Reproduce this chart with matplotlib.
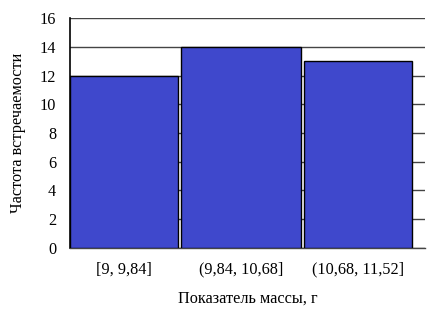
import matplotlib
matplotlib.use('Agg')
import matplotlib.pyplot as plt

# интервалы массы и частоты
intervals = ['[9, 9,84]', '(9,84, 10,68]', '(10,68, 11,52]']
counts = [12, 14, 13]
y_ticks = [0, 2, 4, 6, 8, 10, 12, 14, 16]

# ширина столбцов как на исходном рисунке
bar_widths = [0.917, 1.028, 0.925]

plt.rcParams['font.family'] = ['Liberation Serif', 'DejaVu Serif']
plt.rcParams['font.size'] = 11.7

fig = plt.figure(figsize=(4.29, 3.11), dpi=100)
ax = fig.add_axes([0.1632, 0.2026, 0.8275, 0.7395])

pos = list(range(len(intervals)))
ax.bar(pos, counts, width=bar_widths, color='#3F48CC', edgecolor='black',
       linewidth=1.0, zorder=3)

ax.set_xlim(-0.4625, 2.574)
ax.set_ylim(0, 16)
ax.set_yticks(y_ticks)
ax.set_xticks(pos)
ax.set_xticklabels(intervals)
ax.yaxis.grid(True, color='#444444', linewidth=1.0, zorder=0)
ax.set_axisbelow(True)
ax.tick_params(axis='y', length=0, pad=10)
ax.tick_params(axis='x', length=0, pad=10)

for side in ['top', 'right']:
    ax.spines[side].set_visible(False)
ax.spines['left'].set_color('black')
ax.spines['left'].set_linewidth(1.2)
ax.spines['bottom'].set_color('#444444')
ax.spines['bottom'].set_linewidth(1.0)

ax.set_xlabel('Показатель массы, г', labelpad=9)
ax.set_ylabel('Частота встречаемости', labelpad=10)

fig.savefig('out.png', dpi=100)
